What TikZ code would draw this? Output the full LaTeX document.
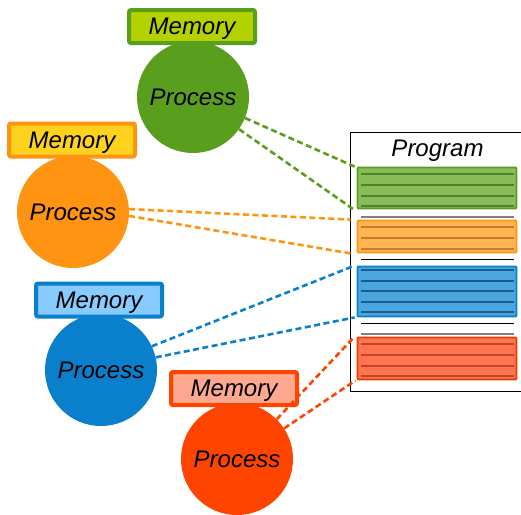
\documentclass[tikz,border=0pt]{standalone}
\usepackage{fontspec}
\setmainfont{Liberation Sans}
\begin{document}
\begin{tikzpicture}[x=1pt,y=-1pt,
  lbl/.style={font=\fontsize{24}{28}\selectfont\itshape, text=black},
  proc/.style={circle, minimum size=112pt, inner sep=0pt, lbl},
  mem/.style={rectangle, rounded corners=2pt, line width=4pt, minimum width=126pt, minimum height=33pt, inner sep=0pt, text depth=0pt, lbl},
  blk/.style={rectangle, rounded corners=1pt, line width=1.8pt, minimum width=159pt, inner sep=0pt},
  link/.style={line width=2.6pt, dash pattern=on 6pt off 3.5pt},
  sep/.style={line width=1pt}
]
\definecolor{gC}{HTML}{5A9E1E}
\definecolor{gM}{HTML}{B4D200}
\definecolor{gB}{HTML}{8CBB5A}
\definecolor{gL}{HTML}{4A8528}
\definecolor{oC}{HTML}{FF9412}
\definecolor{oM}{HTML}{FFD21E}
\definecolor{oB}{HTML}{FFB552}
\definecolor{oL}{HTML}{C97A2E}
\definecolor{bC}{HTML}{0A7FCC}
\definecolor{bM}{HTML}{87CBFF}
\definecolor{bB}{HTML}{4AA6DC}
\definecolor{bL}{HTML}{1A5C90}
\definecolor{rC}{HTML}{FF4400}
\definecolor{rM}{HTML}{FFA890}
\definecolor{rB}{HTML}{FF7550}
\definecolor{rL}{HTML}{C0452A}
\useasboundingbox (0,0) rectangle (521,514);

% program column
\node[draw=black, line width=1pt, minimum width=174pt, minimum height=259pt, inner sep=0pt] (prog) at (437,261.5) {};
\node[lbl, text depth=0pt] (progt) at (437.5,148.5) {Program};

% code segments
\node[blk, draw=gC, fill=gB, minimum height=41pt] (gb) at (437,188) {};
\node[blk, draw=oC, fill=oB, minimum height=32pt] (ob) at (437,236.5) {};
\node[blk, draw=bC, fill=bB, minimum height=50pt] (bb) at (437,291.5) {};
\node[blk, draw=rC!90!black, fill=rB, minimum height=42pt] (rb) at (437,358.5) {};

\foreach \yy in {174,185,196,206} \draw[gL, line width=1.1pt] (361,\yy) -- (514,\yy);
\foreach \yy in {227,238,249} \draw[oL, line width=1.1pt] (361,\yy) -- (514,\yy);
\foreach \yy in {270,281,291,302,312} \draw[bL, line width=1.1pt] (361,\yy) -- (514,\yy);
\foreach \yy in {344,355,366,376} \draw[rL, line width=1.1pt] (361,\yy) -- (514,\yy);

% separators between segments
\draw[sep, gray, line width=2pt] (361,217) -- (514,217);
\draw[sep, black] (361,259) -- (514,259);
\draw[sep, black] (361,323) -- (514,323);
\draw[sep, gray, line width=2pt] (361,334) -- (514,334);

% processes
\node[proc, fill=gC] (gp) at (193,97) {Process};
\node[proc, fill=oC] (op) at (73,212) {Process};
\node[proc, fill=bC] (bp) at (101,370) {Process};
\node[proc, fill=rC] (rp) at (237,459) {Process};

% memories
\node[mem, draw=gC, fill=gM] (gm) at (192,26.5) {Memory};
\node[mem, draw=oC, fill=oM] (om) at (72,140) {Memory};
\node[mem, draw=bC, fill=bM] (bm) at (99,300) {Memory};
\node[mem, draw=rC, fill=rM] (rm) at (234,388.5) {Memory};

% links from processes to their code segments
\draw[link, gC] (gp.-22) -- ([xshift=-2pt]gb.north west);
\draw[link, gC] (gp.-35) -- ([xshift=-3pt]gb.south west);
\draw[link, oC] (op.3) -- ([xshift=-6pt]ob.north west);
\draw[link, oC] (op.-4) -- ([xshift=-6pt]ob.south west);
\draw[link, bC] (bp.25) -- ([xshift=-2pt]bb.north west);
\draw[link, bC] (bp.13) -- ([xshift=-2pt]bb.south west);
\draw[link, rC] (rp.45) -- ([xshift=-2pt]rb.north west);
\draw[link, rC] (rp.33) -- ([xshift=-1pt]rb.south west);
\end{tikzpicture}
\end{document}
